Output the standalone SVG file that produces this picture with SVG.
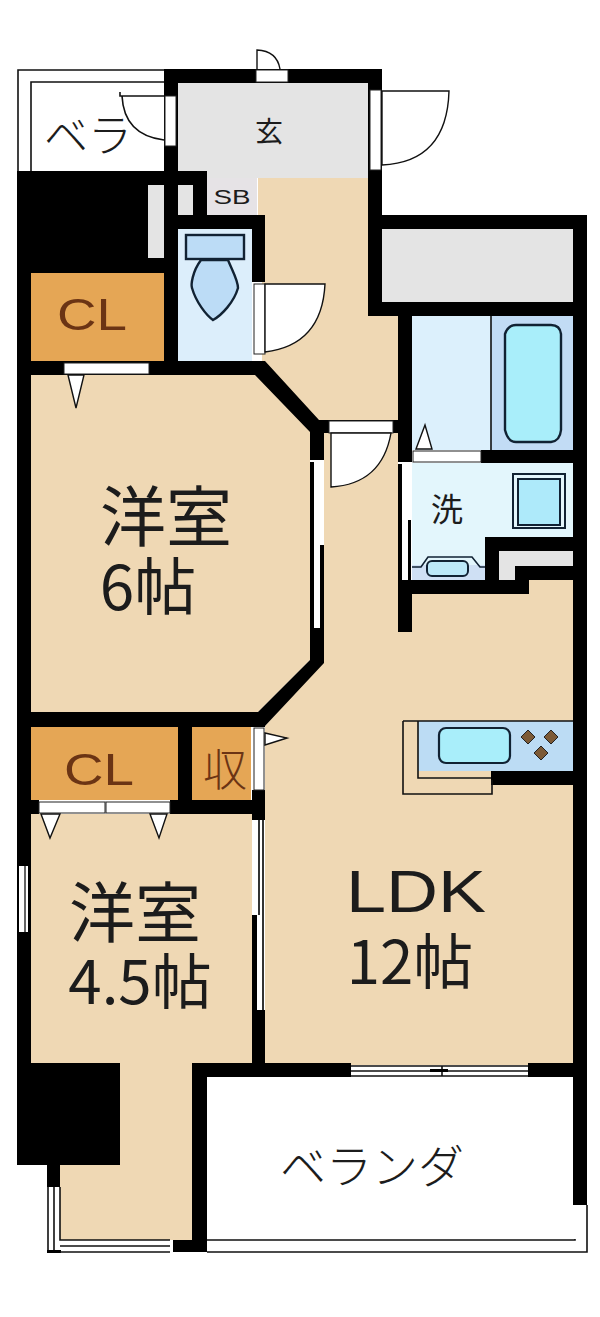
<svg xmlns="http://www.w3.org/2000/svg" width="600" height="1317" viewBox="0 0 600 1317">
<style>
.w{fill:#000}
.f{fill:#efd8b4}
.c{fill:#e5a655}
.g{fill:#e4e4e4}
.wh{fill:#fff}
.l{fill:none;stroke:#111;stroke-width:1.6}
.d{fill:#fff;stroke:#111;stroke-width:1.4}
.h{fill:#fff;stroke:#222;stroke-width:1}
text{font-family:"Noto Sans CJK JP","Noto Sans",sans-serif;fill:#1c1c1c;text-anchor:middle}
.t{fill:#6b3414;font-weight:300}
.k{font-weight:300}
.cl{font-family:"Liberation Sans",sans-serif}
</style>
<rect class="wh" width="600" height="1317"/>

<g id="floors">
<path class="f" d="M31 375H258L310 430V660L258 712H31Z"/>
<path class="f" d="M31 814H252V1065H192V1240H60V1165H120V1063H31Z"/>
<path class="f" d="M258 178H368V315H398V632H412V594H529V580H573V1065H265V726L324 660V425L262 370V215H258Z"/>
<rect class="g" x="178" y="83" width="190" height="95"/>
<rect x="207" y="178" width="50" height="37" fill="#e6e3e6"/>
<rect class="g" x="382" y="229" width="191" height="73"/>
<rect class="c" x="31" y="273" width="133" height="88"/>
<rect class="c" x="31" y="727" width="147" height="73"/>
<rect class="c" x="192" y="727" width="59" height="73"/>
<rect x="178" y="229" width="74" height="132" fill="#dceefb"/>
<rect x="412" y="316" width="79" height="134" fill="#dcf0fc"/>
<rect x="491" y="316" width="82" height="134" fill="#c2dcf5"/>
<rect x="412" y="463" width="161" height="117" fill="#e3f6fc"/>
<rect x="412" y="565" width="73" height="15" fill="#cfe0f4"/>
<rect class="g" x="499" y="551" width="74" height="15"/>
<rect class="g" x="499" y="566" width="16" height="14"/>
<rect x="418" y="721" width="155" height="50" fill="#bcdcf4"/>
</g>

<g id="walls">
<rect class="w" x="17" y="171" width="147" height="102"/>
<rect class="w" x="17" y="171" width="14" height="994"/>
<rect class="w" x="17" y="1063" width="103" height="102"/>
<rect class="g" x="148" y="185" width="16" height="73"/>
<rect class="g" x="178" y="185" width="15" height="30"/>
<rect class="w" x="164" y="69" width="218" height="14"/>
<rect class="w" x="164" y="69" width="14" height="301"/>
<rect class="w" x="368" y="69" width="14" height="247"/>
<rect class="w" x="164" y="171" width="43" height="14"/>
<rect class="w" x="193" y="171" width="14" height="58"/>
<rect class="w" x="178" y="215" width="87" height="14"/>
<rect class="w" x="252" y="215" width="13" height="67"/>
<rect class="w" x="31" y="361" width="234" height="14"/>
<path class="w" d="M252 361H265L319 420H412V433H324V460H310V432L255 375Z"/>
<rect class="w" x="382" y="215" width="205" height="14"/>
<rect class="w" x="573" y="215" width="14" height="990"/>
<rect class="w" x="368" y="302" width="219" height="14"/>
<rect class="w" x="398" y="316" width="14" height="146"/>
<rect class="w" x="398" y="580" width="14" height="52"/>
<rect class="w" x="481" y="450" width="92" height="13"/>
<rect class="w" x="485" y="537" width="88" height="14"/>
<rect class="w" x="485" y="537" width="14" height="57"/>
<rect class="w" x="515" y="566" width="58" height="14"/>
<rect class="w" x="398" y="580" width="131" height="14"/>
<path class="w" d="M310 628H324V663L265 726H252V712H258L310 660Z"/>
<rect class="w" x="31" y="712" width="234" height="15"/>
<rect class="w" x="178" y="727" width="14" height="73"/>
<rect class="w" x="170" y="800" width="95" height="14"/>
<rect class="w" x="31" y="800" width="8" height="14"/>
<rect class="w" x="252" y="790" width="13" height="30"/>
<rect class="w" x="252" y="1010" width="13" height="67"/>
<rect class="w" x="192" y="1063" width="159" height="14"/>
<rect class="w" x="528" y="1063" width="45" height="14"/>
<rect class="w" x="192" y="1063" width="15" height="189"/>
<rect class="w" x="173" y="1240" width="34" height="12"/>
<rect class="w" x="47" y="1165" width="13" height="22"/>
<rect class="w" x="47" y="1250" width="14" height="3"/>
<rect class="w" x="491" y="771" width="82" height="14"/>
</g>

<g id="balcony-outlines">
<path class="l" d="M164 70H18V171M31 171V82H164"/>
<path class="l" d="M207 1240H575V1205M207 1252H587V1205"/>
</g>

<g id="openings">
<rect class="h" x="256" y="70" width="32" height="12"/>
<path class="d" d="M257 69V50Q277 51 280 69"/>
<rect class="h" x="165" y="96" width="11" height="50"/>
<path class="l" d="M164 96H120V92M122 96Q124 135 164 140"/>
<rect class="h" x="370" y="90" width="11" height="80"/>
<path class="d" d="M382 91H449Q447 162 382 165Z"/>
<rect class="h" x="254" y="284" width="11" height="70"/>
<path class="d" d="M265 284H325Q322 345 265 352Z"/>
<rect class="h" x="64" y="363" width="85" height="11"/>
<path class="d" d="M68 375L76 408L84 375Z"/>
<rect class="h" x="329" y="421" width="64" height="12"/>
<path class="d" d="M331 433V487Q382 484 391 433Z"/>
<rect class="h" x="413" y="451" width="68" height="11"/>
<path class="d" d="M416 449L425 425L432 449Z"/>
<rect class="w" x="310" y="462" width="4" height="166"/>
<rect class="wh" x="314" y="462" width="8" height="166"/>
<rect class="w" x="320" y="545" width="4" height="83"/>
<rect class="w" x="398" y="464" width="4" height="116"/>
<rect class="wh" x="402" y="464" width="7" height="116"/>
<rect class="w" x="408" y="520" width="3" height="60"/>
<rect class="h" x="39" y="802" width="66" height="11"/>
<rect class="h" x="106" y="802" width="64" height="11"/>
<path class="d" d="M41 814L50 838L60 814Z"/>
<path class="d" d="M150 814L159 838L167 814Z"/>
<rect class="h" x="254" y="728" width="10" height="62"/>
<path class="d" d="M265 733L287 738L265 745Z"/>
<rect class="wh" x="253" y="820" width="12" height="95"/>
<rect x="258" y="820" width="2" height="95" fill="#333"/>
<rect x="262" y="820" width="2" height="190" fill="#333"/>
<rect class="w" x="252" y="915" width="5" height="95"/>
<rect class="wh" x="257" y="915" width="5" height="95"/>
<rect class="wh" x="264" y="915" width="1" height="95"/>
<rect class="wh" x="19" y="866" width="9" height="66"/>
<rect x="24" y="866" width="2" height="66" fill="#666"/>
<path class="l" d="M351 1066H528M351 1071H528M351 1076H528M442 1066V1076"/>
<rect class="w" x="430" y="1069" width="18" height="3"/>
<path class="l" d="M48 1187V1250M54 1187V1250M60 1187V1240H170M60 1246H170M60 1252H170"/>
<rect class="wh" x="574" y="1205" width="12" height="34"/>
</g>

<g id="fixtures">
<rect x="186" y="235" width="58" height="24" fill="#bcdcf6" stroke="#123" stroke-width="2.4"/>
<path d="M201 260C192 272 191 285 192 288C196 302 206 315 213 320C222 315 234 302 238 288C238 280 232 270 228 260Z" fill="#bcdcf6" stroke="#123" stroke-width="2.4"/>
<path d="M505 334Q508 325 516 325H551Q560 325 561 334V430Q560 441 551 442H516Q508 442 505 430Z" fill="#a9eefa" stroke="#123" stroke-width="2.4"/>
<path class="l" d="M491 316V450"/>
<rect x="513" y="474" width="52" height="54" fill="#e3f6fc" stroke="#123" stroke-width="2"/>
<rect x="518" y="479" width="42" height="46" fill="#aeeafa" stroke="#123" stroke-width="2"/>
<path d="M412 567H421L428 557H472L480 567H485" fill="none" stroke="#123" stroke-width="1.6"/>
<rect x="427" y="561" width="41" height="15" rx="5" fill="#bce8f8" stroke="#123" stroke-width="2"/>
<path class="l" d="M403 721H573M403 721V794H492V780M418 721V778H491"/>
<rect x="439" y="728" width="71" height="35" rx="7" fill="#a9eefa" stroke="#123" stroke-width="2.2"/>
<path d="M528 730L535 737L528 744L521 737Z M551 730L558 737L551 744L544 737Z M541 746L548 753L541 760L534 753Z" fill="#7c5a36" stroke="#222" stroke-width="1"/>
</g>

<g id="labels">
<text x="166" y="541" font-size="66">洋室<tspan x="148" y="610" font-size="62">6帖</tspan></text>
<text x="135" y="937" font-size="66">洋室<tspan x="140" y="1004" font-size="60">4.5帖</tspan></text>
<text x="416" y="912" font-size="60" textLength="140" lengthAdjust="spacingAndGlyphs" style="font-family:'Liberation Sans',sans-serif">LDK</text>
<text x="410" y="984" font-size="60">12帖</text>
<text class="t cl" x="92" y="330" font-size="44" textLength="70" lengthAdjust="spacingAndGlyphs">CL</text>
<text class="t cl" x="99" y="785" font-size="44" textLength="70" lengthAdjust="spacingAndGlyphs">CL</text>
<text class="t" x="225" y="786" font-size="44">収</text>
<text x="269" y="142" font-size="28">玄</text>
<text class="cl" x="232" y="204" font-size="20" textLength="37" lengthAdjust="spacingAndGlyphs">SB</text>
<text x="447" y="521" font-size="32">洗</text>
<text class="k" x="88" y="152" font-size="44">ベラ</text>
<text class="k" x="372" y="1183" font-size="46">ベランダ</text>
</g>
</svg>
